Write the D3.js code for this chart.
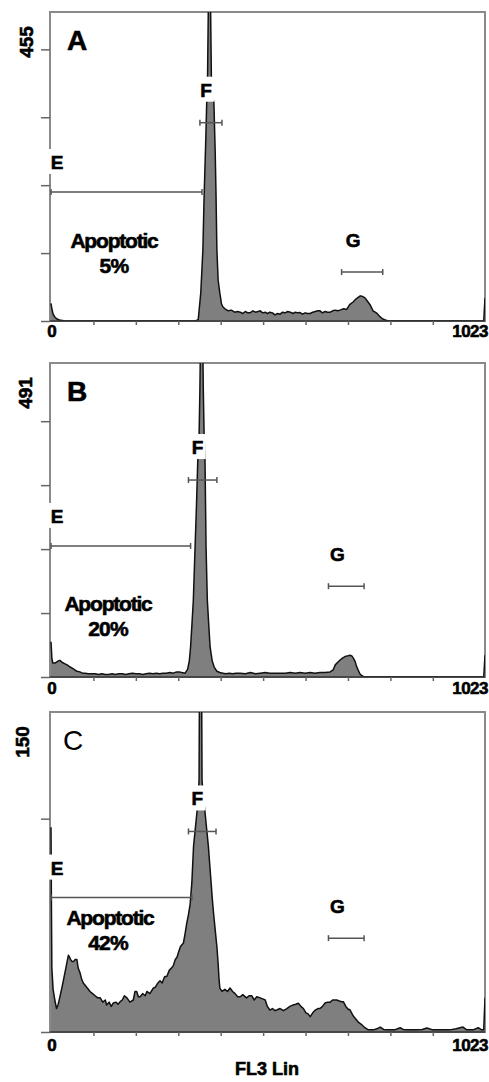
<!DOCTYPE html>
<html>
<head>
<meta charset="utf-8">
<script src="https://cdn.jsdelivr.net/npm/d3@7"></script>
<style>
  body { margin: 0; background: #fff; }
  svg { display: block; }
  text { font-family: "Liberation Sans", Arial, sans-serif; fill: #000; }
  text.heavy { stroke: #000; stroke-width: 0.6px; }
</style>
</head>
<body>
<svg id="chart" width="489" height="1082"></svg>
<script>
// histogram traces, [channel, count]
const histA = [
  [0,26],[2,18],[5,10],[9,6],[14,3],[20,1.5],[30,0.5],[45,0],[340,0],[347,2],[353,41],[358,105],
  [361,186],[365,271],[367,321],[369,360],[371,470],[373,540],[376,470],[378,360],[381,330],[384,321],
  [387,250],[389,186],[391,105],[394,60],[398,41],[402,25],[405,21],[410,18],[418,15],[425,16],
  [433,13],[440,14],[446,13],[452,11],[458,14],[464,12],[469,12],[476,15],[482,13],[488,14],[493,15],
  [499,12],[505,13],[510,11],[516,13],[522,12],[528,9],[534,11],[540,10],[546,13],[552,12],[558,14],
  [564,13],[570,11],[576,13],[582,12],[587,12.5],[593,10],[599,12],[605,11],[611,11],[617,13],[623,14],
  [629,15],[634,15],[640,12],[646,14],[652,13],[658,13],[664,15],[670,16],[676,15],[681,16],[690,18],
  [697,17],[704,24],[712,28],[720,33],[729,37],[735,36],[740,34],[746,29],[752,24],[759,15],[768,11.5],
  [776,6],[782,3],[788,1.5],[795,0],[1020,0],[1023,34]
];
const histB = [
  [0,55],[2,30],[4,22],[10,22],[17,25],[21,26],[26,23],[32,21],[38,19],[44,16],[50,14],[56,11],[61,9],
  [68,8],[74,6],[80,6],[88,5],[96,5],[104,5],[112,4],[120,5],[128,4],[136,4],[144,5],[152,4],[160,5],
  [168,5],[176,4],[184,5],[192,6],[200,5],[208,5],[216,4],[224,5],[232,6],[240,5],[248,6],[256,5],
  [264,6],[272,6],[280,7],[288,6],[296,8],[302,8],[308,7],[316,6],[322,12],[326,25],[329,47],[332,80],
  [335.5,120],[339.6,203],[343,270],[346,339],[349,375],[351,450],[353,560],[357,560],[359,450],
  [361,375],[363,339],[365.5,203],[368.5,120],[372,80],[375,47],[380,25],[385,15],[391,9],[398,7],
  [405,6],[412,5],[420,6],[428,5],[436,6],[446,6],[458,5],[470,7],[482,5],[493,6],[505,7],[516,6],
  [528,6],[540,6],[552,6],[564,7],[576,6],[587,7],[599,6],[611,7],[622,6],[634,7],[646,7],[658,8],
  [665,11],[670,19],[676,23],[682,27],[688,30],[693,32],[699,33],[705,34],[709,33],[713,29],[717,24],
  [720,17],[724,11],[728,5],[733,2],[738,0],[1020,0],[1023,34]
];
const histC = [
  [0,96],[1,60],[2,30],[5,20],[9,15],[13,11],[17,13],[21,16.5],[26,21],[31,26],[36,31],[41,36],[44,35],
  [46,34],[50,33],[53,33],[57,34],[61,34],[64,30],[68,28],[72,25],[76,23],[80,22],[84,21],[88,20],
  [92,19],[98,18],[104,17],[110,16],[116,16],[122,14],[128,15],[131,12.7],[137,14],[142,12],[147,13.6],
  [153,14],[158,13],[163,14.2],[168,15],[173,17],[179,16],[186,14],[194,15],[198,19],[202,19],[206,16.5],
  [210,16.5],[216,18],[222,17],[226,19],[233,18],[241,20.5],[246,21],[252,23],[257,24],[262,23],[268,26],
  [273,26],[279,29],[284,30],[288,31],[293,34],[297,35],[300,37],[305,40],[309,41],[312,41.6],[316,46],
  [320,51],[324,55],[328,60],[332,70],[336,87],[340,95],[344,103],[347,110],[349,118],[350,165],
  [355,165],[356,118],[359,110],[363,103],[367,95],[371,87],[374,79],[377,71],[380,63],[383,56],
  [387,48],[391,40],[394,32],[396,25],[398,20.6],[403,19],[410,20],[416,19],[422,20.6],[428,19],
  [434,18],[440,16.5],[446,16.5],[452,17.5],[461,16],[467,17],[473,17],[479,15],[485,16.5],[493,16],
  [499,15.5],[505,15],[510,12],[516,10.3],[522,11],[528,10],[532,10.3],[540,11],[548,10],[556,11],
  [563,12],[571,12.7],[577,13],[583,13.5],[589,12],[595,11],[601,9],[606,8.5],[611,7.2],[617,9],
  [623,10.3],[629,11],[634,11],[640,12],[646,13.6],[652,14],[658,14],[664,15],[669,15],[674,15],
  [680,14.5],[685,14.2],[689,14.2],[695,12],[700,10.8],[705,10.3],[711,8],[717,6.4],[725,4.5],
  [733,3.3],[740,2],[748,1],[760,1],[768,1.5],[776,2.3],[784,1.2],[792,1],[799,1],[810,1],[823,2],
  [830,1.2],[839,1],[860,1],[875,1.2],[886,1.9],[900,1],[917,1],[940,1],[955,1.5],[964,2],[971,2.3],
  [980,1],[995,1],[1007,2],[1015,1],[1020,1],[1023,16]
];

const panelNames = ["A", "B", "C"];
const yMax = [455, 491, 150];
const yTicks = [[0,100,200,300,400], [0,100,200,300,400], [0,100]];
const xTicks = [100,200,300,400,500,600,700,800,900];
const xTickLabels = [[0,"0"], [1023,"1023"]];
const apoptotic = ["5%", "20%", "42%"];
// gates: channel range and the count level the bar sits at
const gateE = [[0,356], [0,329], [0,332]];
const gateF = [[351,403], [324,391], [324,389]];
const gateG = [[685,782], [654,738], [654,738]];
const gateLevel = [[190,292,72], [205,308,142], [63,94,44]];

const hists = [histA, histB, histC];

// panel placement
const panels = [
  {top: 12,  bottom: 321,  apoY: 248, apoX: 114, pctX: 114, xLabY: 337,  yLabX: 33, bold: true},
  {top: 363, bottom: 677,  apoY: 611, apoX: 108, pctX: 108, xLabY: 694,  yLabX: 32, bold: true},
  {top: 712, bottom: 1032, apoY: 925, apoX: 110, pctX: 108, xLabY: 1051, yLabX: 29, bold: false}
];
const left = 50, right = 485;

const svg = d3.select("#chart");
const x = d3.scaleLinear().domain([0, 1023]).range([51, right]);

panels.forEach(function(p, i) {
  const y = d3.scaleLinear().domain([0, yMax[i]]).range([p.bottom, p.top]);
  const g = svg.append("g");

  g.append("clipPath").attr("id", "clip" + i)
    .append("rect")
    .attr("x", left).attr("y", p.top)
    .attr("width", right - left).attr("height", p.bottom - p.top);

  // frame
  g.append("rect")
    .attr("x", left).attr("y", p.top)
    .attr("width", right - left).attr("height", p.bottom - p.top)
    .attr("fill", "none").attr("stroke", "#8a8a8a").attr("stroke-width", 2);

  // histogram
  const area = d3.area().x(d => x(d[0])).y0(p.bottom).y1(d => y(d[1]));
  const line = d3.line().x(d => x(d[0])).y(d => y(d[1]));
  g.append("path").datum(hists[i])
    .attr("clip-path", "url(#clip" + i + ")")
    .attr("d", area).attr("fill", "#7f7f7f");
  g.append("path").datum(hists[i])
    .attr("clip-path", "url(#clip" + i + ")")
    .attr("d", line).attr("fill", "none")
    .attr("stroke", "#111").attr("stroke-width", 1.5).attr("stroke-linejoin", "round");
  g.append("line")
    .attr("x1", left).attr("x2", right).attr("y1", p.bottom).attr("y2", p.bottom)
    .attr("stroke", "#333").attr("stroke-width", 1.5);

  // axes
  const ya = g.append("g").attr("transform", "translate(" + left + ",0)")
    .call(d3.axisLeft(y).tickValues(yTicks[i]).tickSize(9).tickFormat(""));
  ya.select(".domain").remove();
  ya.selectAll("line").attr("stroke", "#666").attr("stroke-width", 1.5);

  const xa = g.append("g").attr("transform", "translate(0," + p.bottom + ")")
    .call(d3.axisBottom(x).tickValues(xTicks).tickSize(4).tickFormat(""));
  xa.select(".domain").remove();
  xa.selectAll("line").attr("stroke", "#666").attr("stroke-width", 1.5);

  xTickLabels.forEach(function(t) {
    g.append("text").attr("class", "heavy")
      .attr("x", t[0] === 0 ? x(t[0]) + 1 : 488)
      .attr("y", p.xLabY)
      .attr("text-anchor", t[0] === 0 ? "middle" : "end")
      .attr("font-size", 17).attr("font-weight", "bold")
      .attr("letter-spacing", t[0] === 0 ? 0 : -0.5)
      .text(t[1]);
  });

  g.append("text").attr("class", "heavy")
    .attr("transform", "translate(" + p.yLabX + "," + (p.top + 30) + ")rotate(-90)")
    .attr("text-anchor", "middle")
    .attr("font-size", 19).attr("font-weight", "bold")
    .text(yMax[i]);

  // panel letter
  g.append("text").attr("class", p.bold ? "heavy" : null)
    .attr("x", i === 2 ? 63 : 67).attr("y", p.top + 38)
    .attr("font-size", 28).attr("font-weight", p.bold ? "bold" : "normal")
    .text(panelNames[i]);

  // gates
  function gate(range, level, name, dx, dy, box) {
    const yy = y(level), x0 = x(range[0]), x1 = x(range[1]);
    g.append("line").attr("x1", x0).attr("x2", x1).attr("y1", yy).attr("y2", yy)
      .attr("stroke", "#555").attr("stroke-width", 1.5);
    [x0, x1].forEach(function(xx) {
      g.append("line").attr("x1", xx).attr("x2", xx).attr("y1", yy - 3).attr("y2", yy + 3)
        .attr("stroke", "#555").attr("stroke-width", 1.5);
    });
    const lx = name === "E" ? 57 : (x0 + x1) / 2 + dx;
    if (box) {
      g.append("rect").attr("x", lx - 8).attr("y", yy + dy - 20)
        .attr("width", 16).attr("height", 25).attr("fill", "#fff");
    }
    g.append("text").attr("class", "heavy").attr("x", lx).attr("y", yy + dy)
      .attr("text-anchor", "middle")
      .attr("font-size", 19).attr("font-weight", "bold")
      .text(name);
  }
  gate(gateE[i], gateLevel[i][0], "E", 0, -23, true);
  gate(gateF[i], gateLevel[i][1], "F", -5, -26, true);
  gate(gateG[i], gateLevel[i][2], "G", -9, -25, false);

  // apoptotic fraction
  g.append("text").attr("class", "heavy").attr("x", p.apoX).attr("y", p.apoY)
    .attr("text-anchor", "middle").attr("font-size", 21).attr("font-weight", "bold")
    .attr("letter-spacing", -1.2)
    .text("Apoptotic");
  g.append("text").attr("class", "heavy").attr("x", p.pctX).attr("y", p.apoY + 25)
    .attr("text-anchor", "middle").attr("font-size", 21).attr("font-weight", "bold")
    .attr("letter-spacing", -0.8)
    .text(apoptotic[i]);
});

svg.append("text").attr("class", "heavy")
  .attr("x", 267).attr("y", 1075)
  .attr("text-anchor", "middle").attr("font-size", 18).attr("font-weight", "bold")
  .text("FL3 Lin");
</script>
</body>
</html>
